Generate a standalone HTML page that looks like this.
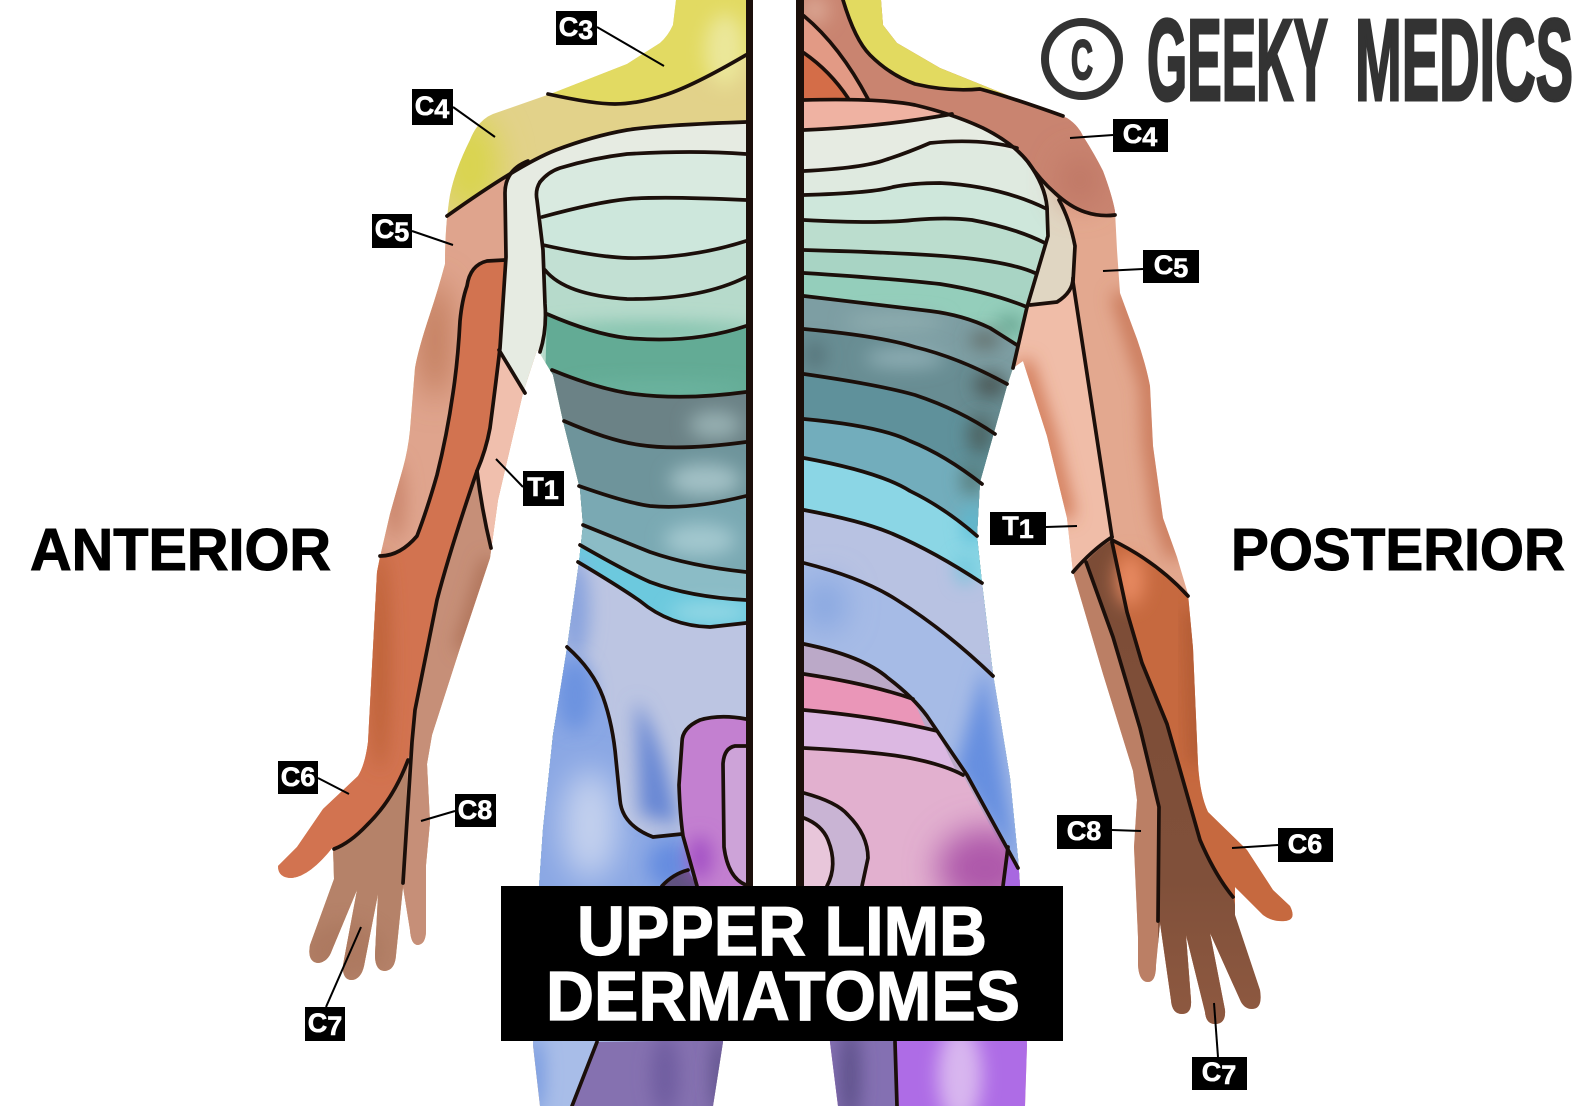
<!DOCTYPE html>
<html><head><meta charset="utf-8"><style>
html,body{margin:0;padding:0;background:#fff;width:1588px;height:1106px;overflow:hidden}
svg{display:block}
.l{fill:none;stroke:#1b0f0a;stroke-width:3.7;stroke-linecap:round;stroke-linejoin:round}
.lead{stroke:#000;stroke-width:2;fill:none}
.lb{font-family:"Liberation Sans",sans-serif;font-weight:bold;font-size:27px;fill:#fff;stroke:#fff;stroke-width:.6;text-anchor:middle}
.h{font-family:"Liberation Sans",sans-serif;font-weight:bold;fill:#000;stroke:#000;stroke-width:1}
</style></head><body>
<svg width="1588" height="1106" viewBox="0 0 1588 1106" xmlns="http://www.w3.org/2000/svg">
<defs>
<filter id="b" x="-300%" y="-300%" width="700%" height="700%"><feGaussianBlur stdDeviation="16"/></filter>
<filter id="b2" x="-300%" y="-300%" width="700%" height="700%"><feGaussianBlur stdDeviation="9"/></filter>
<linearGradient id="dk" x1="0" y1="0" x2="0" y2="1"><stop offset="0" stop-color="#7c4c36"/><stop offset=".6" stop-color="#80503a"/><stop offset="1" stop-color="#965e44"/></linearGradient>
<clipPath id="SL"><path d="M676 0L673 25Q668 36 660 43L627 64L553 93L493 114Q478 120 470 140Q455 170 450 195Q445 225 445 264Q438 290 430 314Q418 350 415 368L410 430Q408 450 403 468L390 514L380 557L377 572L373 648L368 742Q365 765 358 776L323 809L297 847L278 866Q278 878 292 878Q310 876 333 847L334 879L310 945Q307 962 318 963Q328 962 332 950L357 890L343 965Q342 980 352 980Q361 979 364 966L378 894L375 955Q375 971 385 971Q395 970 396 955L403 887L410 930Q411 945 418 945Q426 944 426 930L426 865L430 822L427 764L432 735L460 648L490 558L498 500L523 393L537 350L539 352L553 375L563 421L580 489L583 525L579 562L567 648L553 735L543 829L539 887L533 1045L540 1106L713 1106L723 1042L730 886L752 886L752 0Z"/></clipPath>
<clipPath id="BX"><path d="M540 182Q548 172 560 168Q593 158 627 154Q693 150 750 154L750 900L530 900L540 352Q547 330 545 304L543 250L537 200Q535 190 540 182Z"/></clipPath>
<clipPath id="SR"><path d="M800 0L881 0L883 25L897 43L940 68L1007 95L1067 118Q1078 125 1083 136Q1095 155 1103 171Q1112 195 1115 211L1117 250L1120 293Q1128 315 1137 339Q1146 365 1150 386L1153 446L1163 518L1177 557L1188 594L1193 648L1198 764Q1200 795 1208 812L1247 850L1273 890L1290 906Q1297 920 1285 921Q1272 922 1263 915L1235 887L1235 915L1260 990Q1263 1009 1252 1009Q1245 1009 1241 1002L1210 933L1225 1010Q1226 1024 1215 1024Q1206 1024 1205 1012L1186 935L1191 1000Q1192 1014 1182 1014Q1172 1014 1171 1000L1160 923L1156 965Q1156 982 1148 982Q1139 982 1138 965L1138 937L1134 847L1137 800L1133 771L1103 674L1073 572L1067 518L1047 436L1023 361L1013 368L1007 386L993 436L980 482L977 536L982 583L993 674L1010 778L1018 858L1020 886L1027 1045L1025 1106L838 1106L830 1042L820 886L800 886Z"/></clipPath>
<clipPath id="TR"><path d="M800 90L1000 90L1027 157L1043 182L1048 214L1048 236L1027 307L1013 368L1020 390L1010 480L1030 600L1050 900L800 900Z"/></clipPath>
<clipPath id="LOW"><path d="M804 644Q863 656 888 678Q913 697 927 716L967 775L1018 868L1030 900L800 900L800 644Z"/></clipPath>
</defs>
<rect width="1588" height="1106" fill="#fff"/>

<!-- ANTERIOR -->
<g clip-path="url(#SL)">
<rect x="260" y="0" width="500" height="1106" fill="#e2d28a"/>
<ellipse cx="470" cy="165" rx="30" ry="50" fill="#d9d44e" filter="url(#b)"/>
<path d="M548 94Q593 104 615 104Q637 104 665 95Q693 86 750 55L750 0L660 0L540 90Z" fill="#e2da62"/>
<ellipse cx="725" cy="50" rx="20" ry="36" fill="#ebe79a" filter="url(#b2)"/>
<path d="M447 216Q520 164 556 150Q593 136 627 130Q660 125 750 122L750 1106L250 1106L250 216Z" fill="#dfa48d"/>
<ellipse cx="435" cy="340" rx="14" ry="60" fill="#bc7453" filter="url(#b)"/>
<ellipse cx="395" cy="500" rx="10" ry="40" fill="#c9846a" filter="url(#b2)"/>
<path d="M506 258L487 261Q470 265 467 286Q462 300 460 321Q458 360 453 393Q447 435 437 475Q427 510 417 536Q400 556 380 556L340 560L260 900L320 880L334 849Q350 843 367 825Q393 800 408 760L412 742L415 710Q426 655 437 600Q450 550 477 471Q486 450 490 428Q495 390 500 348Q503 300 506 258Z" fill="#d27350"/>
<ellipse cx="380" cy="660" rx="10" ry="110" fill="#bd6238" filter="url(#b2)"/>
<path d="M500 348Q495 390 490 428Q486 450 477 471L491 548L520 548L530 393Z" fill="#f0bfad"/>
<path d="M477 471Q482 511 491 548L500 548L480 660L440 900L430 1000L403 1000L403 883L412 742L415 710Q426 655 437 600Q450 550 477 471Z" fill="#c68f78"/>
<path d="M490 560L462 650" stroke="#a4664c" stroke-width="12" fill="none" filter="url(#b2)"/>
<path d="M408 760Q393 800 367 825Q350 843 334 849L290 1000L403 1000L403 883Z" fill="#b58269"/>
<ellipse cx="345" cy="950" rx="40" ry="28" fill="#a8745c" opacity=".6" filter="url(#b2)"/>
<!-- upper torso strip -->
<path d="M750 122Q660 125 627 130Q593 136 556 150L528 161Q505 170 505 193L506 257L500 348L525 393L545 360L545 200L750 200Z" fill="#e6ebe2"/>
<g clip-path="url(#BX)">
<rect x="530" y="150" width="220" height="100" fill="#d9eae0"/>
<path d="M542 217Q597 202 628 199Q660 196 750 200L750 900L530 900Z" fill="#cde7dc"/>
<path d="M543 245Q597 257 628 258Q690 259 750 241L750 900L530 900Z" fill="#c2e0d3"/>
<path d="M545 270Q565 295 627 299Q700 300 750 277L750 900L530 900Z" fill="#b6dacb"/>
<ellipse cx="650" cy="332" rx="110" ry="9" fill="#7cbfa9" filter="url(#b2)"/>
<path d="M547 314Q593 334 627 338Q693 344 750 326L750 900L530 900Z" fill="#63ab95"/>
<ellipse cx="660" cy="390" rx="90" ry="6" fill="#6fb8a4" filter="url(#b2)"/>
<path d="M552 370Q593 387 627 393Q680 401 750 392L750 900L530 900Z" fill="#6b8286"/>
<ellipse cx="715" cy="425" rx="26" ry="14" fill="#97b0b2" filter="url(#b2)"/>
<path d="M564 421Q610 441 640 445Q680 451 750 442L750 900L530 900Z" fill="#6e949b"/>
<ellipse cx="705" cy="480" rx="36" ry="16" fill="#a3c1c6" filter="url(#b2)"/>
<path d="M579 486Q627 503 650 506Q690 510 750 496L750 900L530 900Z" fill="#7aa9b3"/>
<ellipse cx="700" cy="540" rx="36" ry="16" fill="#a3c8cf" filter="url(#b2)"/>
<path d="M583 525Q620 540 650 552Q690 566 750 572L750 900L530 900Z" fill="#8bbcc6"/>
<path d="M580 545Q627 572 650 582Q690 597 750 600L750 900L530 900Z" fill="#6cc9de"/>
<ellipse cx="710" cy="612" rx="40" ry="7" fill="#a2dde7" filter="url(#b2)"/>
<path d="M578 562Q620 587 640 601Q670 626 710 627L750 623L750 900L530 900Z" fill="#bcc5e2"/>
<ellipse cx="575" cy="610" rx="14" ry="50" fill="#87a2de" filter="url(#b2)"/>
</g>
<path d="M567 647Q593 670 603 697Q613 725 616 760L620 800Q622 825 653 837L682 834L700 900L530 900L530 647Z" fill="#8aa7e4"/>
<ellipse cx="590" cy="825" rx="28" ry="55" fill="#c4d1ee" filter="url(#b)"/>
<ellipse cx="575" cy="695" rx="18" ry="36" fill="#6c93e0" filter="url(#b2)"/>
<path d="M636 700Q665 745 678 825L640 815Z" fill="#6787d4" filter="url(#b2)"/>
<ellipse cx="670" cy="865" rx="22" ry="24" fill="#668de0" filter="url(#b2)"/>
<path d="M662 886Q673 874 688 870L697 886Z" fill="#5f5280"/>
<path d="M750 719Q720 714 700 720Q682 728 682 742L679 785Q680 815 683 836L697 886L750 886Z" fill="#c380d0"/>
<ellipse cx="700" cy="858" rx="12" ry="22" fill="#a250c4" filter="url(#b2)"/>
<path d="M750 746L735 746Q724 748 723 764L724 847Q728 878 750 885Z" fill="#cda3d8"/>
<!-- below banner -->
<rect x="520" y="1040" width="210" height="70" fill="#a8bde8"/>
<path d="M597 1042L572 1106L730 1106L730 1040Z" fill="#8571b0"/>
<ellipse cx="665" cy="1075" rx="14" ry="40" fill="#6f5da0" filter="url(#b2)"/>
<ellipse cx="720" cy="1075" rx="8" ry="40" fill="#5b4f88" filter="url(#b2)"/>
<ellipse cx="535" cy="1075" rx="8" ry="40" fill="#7094df" filter="url(#b2)"/>
</g>
<g class="l">
<path d="M548 94Q593 104 615 104Q637 104 665 95Q693 86 746 55"/>
<path d="M447 216Q520 164 556 150Q593 136 627 130Q660 125 746 122"/>
<path d="M528 161Q505 170 505 193L506 257Q503 300 500 348Q495 390 490 428Q486 450 477 471Q450 550 437 600Q426 655 415 710L412 742L403 883"/>
<path d="M505 260L487 261Q470 265 467 286Q462 300 460 321Q458 360 453 393Q447 435 437 475Q427 510 417 536Q400 556 380 556"/>
<path d="M499 350L525 393"/>
<path d="M477 471Q482 511 491 548"/>
<path d="M408 760Q393 800 367 825Q350 843 334 849"/>
<path d="M540 182Q548 172 560 168Q593 158 627 154Q693 150 746 154"/>
<path d="M540 182Q535 190 537 200L543 250L545 304Q547 330 540 352"/>
<path d="M542 217Q597 202 628 199Q660 196 746 200"/>
<path d="M543 245Q597 257 628 258Q690 259 746 241"/>
<path d="M545 270Q565 295 627 299Q700 300 746 277"/>
<path d="M547 314Q593 334 627 338Q693 344 746 326"/>
<path d="M552 370Q593 387 627 393Q680 401 746 392"/>
<path d="M564 421Q610 441 640 445Q680 451 746 442"/>
<path d="M579 486Q627 503 650 506Q690 510 746 496"/>
<path d="M583 525Q620 540 650 552Q690 566 746 572"/>
<path d="M580 545Q627 572 650 582Q690 597 746 600"/>
<path d="M578 562Q620 587 640 601Q670 626 710 627L746 623"/>
<path d="M567 647Q593 670 603 697Q613 725 616 760L620 800Q622 825 653 837L682 834"/>
<path d="M746 719Q720 714 700 720Q682 728 682 742L679 785Q680 815 683 836L697 886"/>
<path d="M746 746L735 746Q724 748 723 764L724 847Q728 878 746 885"/>
<path d="M662 886Q673 874 688 870"/>
<path d="M597 1042L572 1106"/>
</g>

<!-- POSTERIOR -->
<g clip-path="url(#SR)">
<rect x="800" y="0" width="520" height="1106" fill="#e3a88f"/>
<path d="M1120 293L1150 386L1153 446L1163 518L1177 557" fill="none" stroke="#c46f50" stroke-width="16" filter="url(#b2)"/>
<path d="M1073 282L1112 537L1083 570L1000 570L1000 300Z" fill="#f0bda8"/>
<path d="M1023 361L1047 436L1067 518" fill="none" stroke="#c8663f" stroke-width="14" filter="url(#b2)"/>
<path d="M1030 305L1057 302Q1073 292 1073 278L1075 246Q1070 220 1059 200L1040 180Z" fill="#e0d6c2"/>
<!-- forearm -->
<path d="M1073 572Q1092 550 1112 537L1113 542L1233 897L1235 1106L1100 1106L1100 800L1060 570Z" fill="#bb7f65"/>
<path d="M1086 562Q1098 548 1112 540L1127 612L1142 663L1167 724L1200 840L1233 897L1300 1106L1158 1106L1158 921L1159 807L1140 728L1113 637Z" fill="url(#dk)"/>
<path d="M1113 542Q1157 562 1188 596L1320 596L1320 960L1240 925L1233 897Q1215 875 1200 840L1167 724L1142 663L1127 612Z" fill="#c6693f"/>
<ellipse cx="1130" cy="580" rx="14" ry="26" fill="#e88a62" filter="url(#b2)"/>
<path d="M1193 610L1198 764" fill="none" stroke="#ad5830" stroke-width="16" filter="url(#b2)"/>
<g clip-path="url(#TR)">
<rect x="800" y="90" width="260" height="90" fill="#e6ebe2"/>
<path d="M804 130Q880 127 952 114L952 60L800 60Z" fill="#efb2a2"/>
<path d="M804 171Q863 168 885 160Q907 153 930 143Q980 138 1030 158L1070 158L1070 900L800 900L800 171Z" fill="#dfeae0"/>
<path d="M804 195Q873 193 893 187Q913 183 940 183Q1000 186 1047 209L1070 209L1070 900L800 900L800 195Z" fill="#cee7db"/>
<path d="M804 220Q880 224 913 220Q947 217 972 220Q1015 228 1045 243L1070 243L1070 900L800 900L800 220Z" fill="#bbddce"/>
<path d="M804 250Q913 253 955 257Q1010 262 1035 273L1070 273L1070 900L800 900L800 250Z" fill="#a8d4c4"/>
<path d="M804 273Q897 279 940 284Q990 292 1027 307L1070 307L1070 900L800 900L800 273Z" fill="#94cebb"/>
<ellipse cx="1010" cy="325" rx="14" ry="10" fill="#67a592" filter="url(#b2)"/>
<path d="M804 296Q897 307 930 311Q963 315 990 328L1017 345L1070 345L1070 900L800 900L800 296Z" fill="#7d9ea3"/>
<ellipse cx="985" cy="340" rx="16" ry="8" fill="#5e6864" filter="url(#b2)"/>
<ellipse cx="895" cy="322" rx="50" ry="7" fill="#93b1b3" filter="url(#b2)"/>
<path d="M804 329Q880 336 915 347Q960 358 1007 384L1070 384L1070 900L800 900L800 329Z" fill="#688d93"/>
<ellipse cx="905" cy="358" rx="40" ry="10" fill="#8fafb5" filter="url(#b2)"/>
<ellipse cx="990" cy="385" rx="16" ry="12" fill="#4a5552" filter="url(#b2)"/>
<ellipse cx="815" cy="355" rx="10" ry="14" fill="#557278" filter="url(#b2)"/>
<path d="M804 374Q880 385 915 395Q960 410 995 434L1070 434L1070 900L800 900L800 374Z" fill="#5f919b"/>
<ellipse cx="980" cy="435" rx="12" ry="20" fill="#4b615f" filter="url(#b2)"/>
<path d="M804 419Q880 426 910 441Q945 455 982 484L1070 484L1070 900L800 900L800 419Z" fill="#72adbc"/>
<ellipse cx="972" cy="480" rx="10" ry="16" fill="#557775" filter="url(#b2)"/>
<path d="M804 458Q880 472 910 491Q945 508 977 536L1070 536L1070 900L800 900L800 458Z" fill="#8bd6e5"/>
<ellipse cx="972" cy="525" rx="8" ry="20" fill="#57bcd6" filter="url(#b2)"/>
<path d="M804 510Q863 521 893 534Q935 552 982 583L1070 583L1070 900L800 900L800 510Z" fill="#b8c2e2"/>
<ellipse cx="965" cy="570" rx="8" ry="14" fill="#6cc4da" filter="url(#b2)"/>
<path d="M804 563Q863 578 897 600Q945 630 993 676L1070 676L1070 900L800 900L800 563Z" fill="#a6bbe6"/>
<ellipse cx="825" cy="605" rx="20" ry="26" fill="#84a4e0" filter="url(#b)"/>
<path d="M985 665L1020 870L955 770Z" fill="#668fe0" filter="url(#b2)"/>
<g clip-path="url(#LOW)">
<rect x="800" y="640" width="240" height="260" fill="#bba9c8"/>
<path d="M804 674Q870 684 913 699L940 760L800 760Z" fill="#ea96b8"/>
<path d="M804 710Q880 717 937 731L965 790L800 790Z" fill="#dcb8e2"/>
<path d="M804 748Q880 752 910 758Q945 765 963 775L1030 900L800 900Z" fill="#e2b0cf"/>
<ellipse cx="985" cy="868" rx="48" ry="40" fill="#ae58aa" filter="url(#b)"/>
<path d="M804 793Q837 802 848 815Q868 835 868 858L862 886L800 886Z" fill="#c9b4d4"/>
<path d="M804 818Q822 825 828 840Q838 865 827 886L800 886Z" fill="#e8c6da"/>
<path d="M1008 847L1003 886L1030 890L1020 845Z" fill="#a868e0"/>
</g>
</g>
<!-- C4 -->
<path d="M800 100Q880 98 915 105Q953 114 983 128Q1013 143 1028 162Q1040 180 1055 193Q1070 207 1085 212Q1100 217 1125 215L1125 0L800 0Z" fill="#c98470"/>
<ellipse cx="1080" cy="180" rx="18" ry="24" fill="#bd7563" filter="url(#b)"/>
<ellipse cx="815" cy="10" rx="14" ry="14" fill="#dba794" filter="url(#b2)"/>
<path d="M804 16Q840 46 868 99L804 100Z" fill="#e29a85"/>
<path d="M804 53Q830 71 848 98L804 100Z" fill="#d46d48"/>
<path d="M843 0Q855 40 870 55Q890 75 915 84Q950 92 980 89Q1010 97 1063 116L1120 116L1120 0Z" fill="#e2da60"/>
<!-- legs below banner -->
<rect x="800" y="1040" width="240" height="70" fill="#ae6ce6"/>
<rect x="800" y="1040" width="97" height="70" fill="#8470b2"/>
<ellipse cx="850" cy="1075" rx="10" ry="50" fill="#5b4f88" filter="url(#b2)"/>
<ellipse cx="960" cy="1075" rx="22" ry="50" fill="#d8b6ef" filter="url(#b2)"/>
</g>
<g class="l">
<path d="M804 100Q880 98 915 105Q953 114 983 128Q1013 143 1028 162Q1040 180 1055 193Q1070 207 1085 212Q1100 217 1115 215"/>
<path d="M1028 162Q1045 185 1047 207L1048 236L1027 307L1013 368"/>
<path d="M843 0Q855 40 870 55Q890 75 915 84Q950 92 980 89Q1010 97 1063 116"/>
<path d="M804 16Q840 46 868 99"/>
<path d="M804 53Q830 71 848 98"/>
<path d="M804 130Q880 127 952 114"/>
<path d="M804 171Q863 168 885 160Q907 153 930 143Q980 138 1017 148"/>
<path d="M804 195Q873 193 893 187Q913 183 940 183Q1000 186 1047 209"/>
<path d="M804 220Q880 224 913 220Q947 217 972 220Q1015 228 1045 243"/>
<path d="M804 250Q913 253 955 257Q1010 262 1035 273"/>
<path d="M804 273Q897 279 940 284Q990 292 1027 307"/>
<path d="M804 296Q897 307 930 311Q963 315 990 328L1017 345"/>
<path d="M804 329Q880 336 915 347Q960 358 1007 384"/>
<path d="M804 374Q880 385 915 395Q960 410 995 434"/>
<path d="M804 419Q880 426 910 441Q945 455 982 484"/>
<path d="M804 458Q880 472 910 491Q945 508 977 536"/>
<path d="M804 510Q863 521 893 534Q935 552 982 583"/>
<path d="M804 563Q863 578 897 600Q945 630 993 676"/>
<path d="M804 644Q863 656 888 678Q913 697 927 716L967 775L1018 868"/>
<path d="M804 674Q870 684 913 699"/>
<path d="M804 710Q880 717 937 731"/>
<path d="M804 748Q880 752 910 758Q945 765 963 775"/>
<path d="M804 793Q837 802 848 815Q868 835 868 858L862 886"/>
<path d="M804 818Q822 825 828 840Q838 865 827 886"/>
<path d="M1008 847L1003 886"/>
<path d="M1059 200Q1070 220 1075 246L1073 282L1112 537"/>
<path d="M1073 278Q1073 292 1057 302L1030 305"/>
<path d="M1073 572Q1092 550 1112 537"/>
<path d="M1112 540Q1157 562 1188 596"/>
<path d="M1086 562L1113 637L1140 728L1159 807L1158 921"/>
<path d="M1112 542L1127 612L1142 663L1167 724L1200 840Q1215 875 1233 897"/>
<path d="M895 1042L897 1106"/>
</g>

<!-- centre bars -->
<rect x="746" y="0" width="7" height="886" fill="#1b0f0a"/>
<rect x="796" y="0" width="8" height="886" fill="#1b0f0a"/>

<!-- banner -->
<rect x="501" y="886" width="562" height="155" fill="#000"/>
<text x="782" y="955" text-anchor="middle" font-family="Liberation Sans" font-weight="bold" font-size="70" fill="#fff" stroke="#fff" stroke-width="1.2" textLength="410" lengthAdjust="spacingAndGlyphs">UPPER LIMB</text>
<text x="783" y="1020" text-anchor="middle" font-family="Liberation Sans" font-weight="bold" font-size="70" fill="#fff" stroke="#fff" stroke-width="1.2" textLength="474" lengthAdjust="spacingAndGlyphs">DERMATOMES</text>

<text class="h" x="30" y="570" font-size="59" textLength="301" lengthAdjust="spacingAndGlyphs">ANTERIOR</text>
<text class="h" x="1231" y="570" font-size="59" textLength="334" lengthAdjust="spacingAndGlyphs">POSTERIOR</text>

<!-- logo -->
<circle cx="1082" cy="59" r="37" fill="none" stroke="#333" stroke-width="8"/>
<text x="1082" y="79" text-anchor="middle" font-family="Liberation Sans" font-weight="bold" font-size="56" fill="#333" stroke="#333" stroke-width="2" textLength="22" lengthAdjust="spacingAndGlyphs">C</text>
<text x="1147" y="100" font-family="Liberation Sans" font-weight="bold" font-size="116" fill="#333" stroke="#333" stroke-width="3" textLength="181" lengthAdjust="spacingAndGlyphs">GEEKY</text>
<text x="1355" y="100" font-family="Liberation Sans" font-weight="bold" font-size="116" fill="#333" stroke="#333" stroke-width="3" textLength="218" lengthAdjust="spacingAndGlyphs">MEDICS</text>

<!-- leaders -->
<g class="lead">
<path d="M597 27L664 66"/><path d="M453 107L495 137"/><path d="M412 231L453 245"/><path d="M523 487L496 459"/>
<path d="M318 778L349 794"/><path d="M455 811L421 821"/><path d="M326 1007L361 927"/>
<path d="M1113 135L1070 138"/><path d="M1143 269L1103 271"/><path d="M1046 527L1077 526"/>
<path d="M1112 830L1141 831"/><path d="M1278 845L1232 848"/><path d="M1214 1003L1218 1057"/>
</g>

<!-- labels -->
<g fill="#000">
<rect x="556" y="11" width="41" height="34"/><rect x="412" y="89" width="41" height="36"/>
<rect x="372" y="214" width="40" height="34"/><rect x="523" y="471" width="41" height="35"/>
<rect x="278" y="761" width="40" height="33"/><rect x="455" y="794" width="41" height="33"/>
<rect x="305" y="1007" width="40" height="34"/>
<rect x="1113" y="119" width="55" height="33"/><rect x="1143" y="250" width="56" height="33"/>
<rect x="990" y="512" width="56" height="33"/><rect x="1057" y="815" width="55" height="34"/>
<rect x="1278" y="828" width="55" height="34"/><rect x="1192" y="1057" width="55" height="33"/>
</g>
<g class="lb">
<text x="576" y="36">C<tspan dy="3">3</tspan></text>
<text x="432" y="115">C<tspan dy="3">4</tspan></text>
<text x="392" y="238">C<tspan dy="3">5</tspan></text>
<text x="543" y="496">T<tspan dy="3">1</tspan></text>
<text x="298" y="786">C6</text>
<text x="475" y="819">C8</text>
<text x="325" y="1032">C<tspan dy="3">7</tspan></text>
<text x="1140" y="143">C<tspan dy="3">4</tspan></text>
<text x="1171" y="274">C<tspan dy="3">5</tspan></text>
<text x="1018" y="535">T<tspan dy="3">1</tspan></text>
<text x="1084" y="840">C8</text>
<text x="1305" y="853">C6</text>
<text x="1219" y="1081">C<tspan dy="3">7</tspan></text>
</g>
</svg>
</body></html>
